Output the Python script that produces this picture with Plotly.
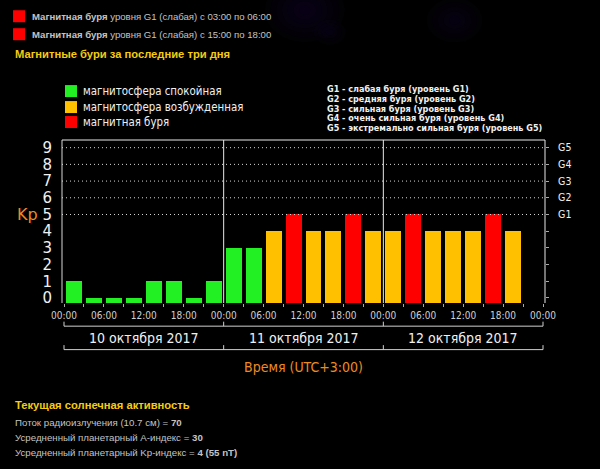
import plotly.graph_objects as go

# ---------------- data ----------------
kp_day1 = [1, 0, 0, 0, 1, 1, 0, 1]
kp_day2 = [3, 3, 4, 5, 4, 4, 5, 4]
kp_day3 = [4, 5, 4, 4, 4, 5, 4, None]
kp_values = kp_day1 + kp_day2 + kp_day3
day_labels = ["10 октября 2017", "11 октября 2017", "12 октября 2017"]
hour_labels = ["00:00", "06:00", "12:00", "18:00"]
g_levels = ["G1", "G2", "G3", "G4", "G5"]
g_descriptions = [
    "G1 - слабая буря (уровень G1)",
    "G2 - средняя буря (уровень G2)",
    "G3 - сильная буря (уровень G3)",
    "G4 - очень сильная буря (уровень G4)",
    "G5 - экстремально сильная буря (уровень G5)",
]
legend_items = ["магнитосфера спокойная", "магнитосфера возбужденная", "магнитная буря"]
storm_lines = [("03:00", "06:00"), ("15:00", "18:00")]
solar_lines = [
    ("Поток радиоизлучения (10.7 см) = ", "70"),
    ("Усредненный планетарный A-индекс = ", "30"),
    ("Усредненный планетарный Kp-индекс = ", "4 (55 nT)"),
]

GREEN, ORANGE, RED = "#22f022", "#ffc000", "#ff0000"
YELLOW = "#f5cc10"
AXIS_ORANGE = "#ee8a22"
GRAY = "#c4c4c4"
COND = "DejaVu Sans Condensed, Liberation Sans Narrow, DejaVu Sans"


def kp_color(v):
    if v is None:
        return GREEN
    if v >= 5:
        return RED
    if v >= 4:
        return ORANGE
    return GREEN


# ---------------- geometry ----------------
W, H = 600, 469
L, R, T, B = 62, 545.5, 140, 303.3
Y0, Y1 = -0.3, 9.46
X0, X1 = -0.3, 72.3


def px(x):
    return (x - L) / (R - L)


def py(y):
    return (B - y) / (B - T)


slot_hours = 3
x_centers = [slot_hours * i + slot_hours / 2 for i in range(len(kp_values))]
bar_len = [None if v is None else v - Y0 for v in kp_values]

fig = go.Figure()
fig.add_trace(go.Bar(
    x=x_centers, y=bar_len, base=Y0, width=2.4,
    marker=dict(color=[kp_color(v) for v in kp_values], line=dict(width=0)),
    hoverinfo="skip",
))
fig.add_trace(go.Scatter(x=[None], y=[None], yaxis="y2", showlegend=False))

tickvals = list(range(0, 73, 3))
ticktext = [hour_labels[(h // 6) % 4] if h % 6 == 0 else "" for h in tickvals]

shapes = []
# purple haze at top (soft, layered)
for (cx, cy, r0, n) in [(305, 10, 40, 7), (455, 20, 28, 5), (330, 32, 16, 4)]:
    for k in range(n):
        r = r0 * (1 - k / n)
        shapes.append(dict(type="circle", xref="paper", yref="paper", layer="below",
                           x0=px(cx - r), x1=px(cx + r), y0=py(cy + r * 0.8), y1=py(cy - r * 0.8),
                           fillcolor="#6a22a8", opacity=0.025, line=dict(width=0)))
# dotted grid for G levels
for lvl in range(5, 10):
    shapes.append(dict(type="line", xref="paper", yref="y", x0=0, x1=1, y0=lvl, y1=lvl,
                       line=dict(color="#d8d8d8", width=1, dash="1px,3px")))
# frame
shapes.append(dict(type="line", xref="paper", yref="paper", x0=0, x1=1, y0=1, y1=1,
                   line=dict(color="#e8e8e8", width=1)))
shapes.append(dict(type="line", xref="paper", yref="paper", x0=0, x1=0, y0=0, y1=1,
                   line=dict(color="#d8d8d8", width=1)))
shapes.append(dict(type="line", xref="paper", yref="paper", x0=1, x1=1, y0=0, y1=1,
                   line=dict(color="#e8e8e8", width=1)))
# day separators
for d in (24, 48):
    shapes.append(dict(type="line", xref="x", yref="paper", x0=d, x1=d, y0=0, y1=1,
                       line=dict(color="#e8e8e8", width=1)))
# brackets
for yline in (326.5, 350):
    shapes.append(dict(type="line", xref="x", yref="paper", x0=0, x1=72, y0=py(yline), y1=py(yline),
                       line=dict(color="#d0d0d0", width=1)))
    for d in (0, 24, 48, 72):
        shapes.append(dict(type="line", xref="x", yref="paper", x0=d, x1=d,
                           y0=py(yline), y1=py(yline - 4.5),
                           line=dict(color="#d0d0d0", width=1)))
# legend squares
leg_colors = [GREEN, ORANGE, RED]
leg_y = [91, 107, 122]
for c, yy in zip(leg_colors, leg_y):
    shapes.append(dict(type="rect", xref="paper", yref="paper",
                       x0=px(65), x1=px(77), y0=py(yy + 6), y1=py(yy - 6),
                       fillcolor=c, line=dict(width=0)))
# red squares top
for yy in (16, 34):
    shapes.append(dict(type="rect", xref="paper", yref="paper",
                       x0=px(13), x1=px(25), y0=py(yy + 6), y1=py(yy - 6),
                       fillcolor=RED, line=dict(width=0)))

ann = []


def text(x, y, s, size, color, family="Liberation Sans, Arial", xanchor="left"):
    ann.append(dict(xref="paper", yref="paper", x=px(x), y=py(y), text=s, showarrow=False,
                    xanchor=xanchor, yanchor="middle", align="left",
                    font=dict(size=size, color=color, family=family)))


for (a, b), yy in zip(storm_lines, (16, 34)):
    text(30, yy, f"<b>Магнитная буря</b> уровня G1 (слабая) с {a} по {b}", 9.6, GRAY)
text(13, 54, "<b>Магнитные бури за последние три дня</b>", 11.2, YELLOW)
for s, yy in zip(legend_items, leg_y):
    text(81, yy, s, 11.4, "#f0f0f0", family=COND)
for i, s in enumerate(g_descriptions):
    text(325, 89 + i * 9.8, f"<b>{s}</b>", 9, "#f0f0f0", family=COND)
text(27, 215, "Kp", 16, AXIS_ORANGE, family="DejaVu Sans", xanchor="center")
for i, s in enumerate(day_labels):
    ann.append(dict(xref="x", yref="paper", x=12 + 24 * i, y=py(338.5), text=s, showarrow=False,
                    xanchor="center", yanchor="middle",
                    font=dict(size=14, color="#f0f0f0", family=COND)))
text(304, 367, "Время (UTC+3:00)", 14, AXIS_ORANGE, family=COND, xanchor="center")
text(13, 405, "<b>Текущая солнечная активность</b>", 11.2, YELLOW)
for (a, b), yy in zip(solar_lines, (423.5, 438.5, 453.5)):
    text(13, yy, f"{a}<b>{b}</b>", 9.7, GRAY)

fig.update_layout(
    width=W, height=H,
    margin=dict(l=L, r=W - R, t=T, b=H - B, pad=0),
    paper_bgcolor="black", plot_bgcolor="black",
    showlegend=False, bargap=0,
    xaxis=dict(range=[X0, X1], tickvals=tickvals, ticktext=ticktext, ticks="outside",
               ticklen=3, tickcolor="#aaaaaa", showgrid=False, zeroline=False, showline=False,
               tickfont=dict(size=10, color="#d0d0d0", family=COND), fixedrange=True),
    yaxis=dict(range=[Y0, Y1], tickvals=list(range(10)), showgrid=False, zeroline=False,
               showline=False, ticks="", ticklabelstandoff=9,
               tickfont=dict(size=15, color="#f0f0f0", family="DejaVu Sans"), fixedrange=True),
    yaxis2=dict(range=[Y0, Y1], overlaying="y", side="right", anchor="x",
                tickvals=list(range(10)), ticktext=[""] * 5 + g_levels,
                ticks="outside", ticklen=3, tickcolor="#aaaaaa", showgrid=False, zeroline=False,
                showline=False, ticklabelstandoff=7,
                tickfont=dict(size=10.5, color="#f0f0f0", family=COND), fixedrange=True),
    shapes=shapes, annotations=ann,
)

fig.write_html("out.html", config={"displayModeBar": False})
